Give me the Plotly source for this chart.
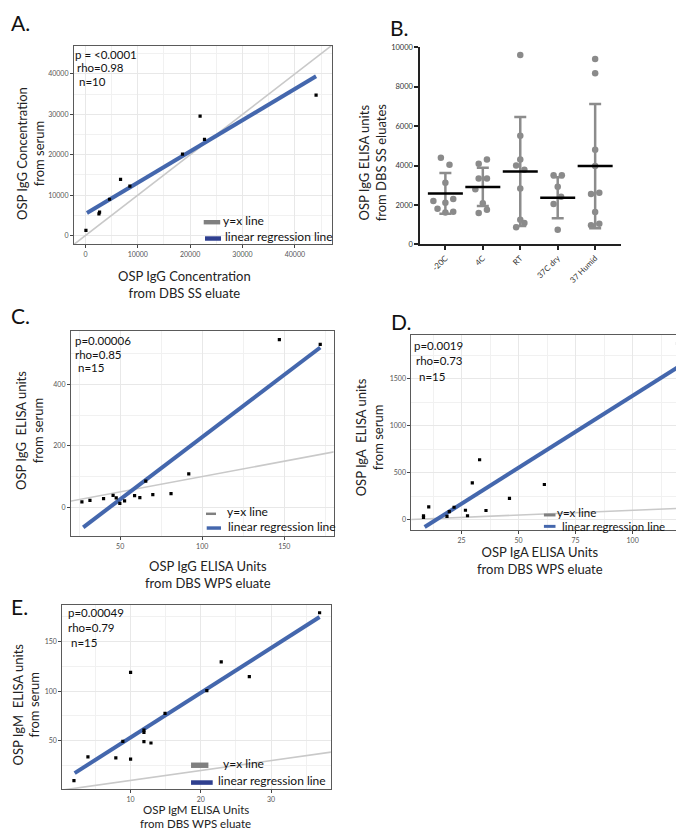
import plotly.graph_objects as go

W, H = 684, 830

# ---------------- data ----------------
# Panel A
a_dbs = [95, 2580, 2700, 4610, 6710, 8490, 18540, 21900, 22740, 44050]
a_serum = [1300, 5390, 5800, 8980, 13880, 12240, 20150, 29550, 23820, 34760]
a_fit_x = [290, 44050]
a_fit_y = [5560, 39410]

# Panel B
b_categories = ["-20C", "4C", "RT", "37C dry", "37 Humid"]
b_neg20 = [4400, 4045, 3125, 2205, 2120, 2305, 1805, 1620, 1655]
b_neg20_jit = [-0.12, 0.11, 0, -0.32, 0, 0.21, -0.21, 0, 0.21]
b_4c = [4095, 4310, 3345, 3345, 2800, 2090, 1590, 1755]
b_4c_jit = [-0.11, 0.11, -0.11, 0.11, -0.2, 0, -0.11, 0.11]
b_rt = [9610, 5510, 4310, 4010, 3795, 2840, 1250, 1085, 870]
b_rt_jit = [0, 0, 0, -0.11, 0.11, 0, 0, 0.11, -0.11]
b_37dry = [3510, 3510, 2925, 2420, 2055, 750]
b_37dry_jit = [-0.11, 0.11, 0, 0.09, -0.11, 0]
b_37hum = [9410, 8690, 4800, 3975, 2555, 2620, 1640, 970, 1055]
b_37hum_jit = [0, 0, 0, 0, -0.11, 0.11, 0, -0.11, 0.11]
b_means = [2590, 2920, 3700, 2370, 3975]
b_sd = [1035, 970, 2765, 1035, 3150]

# Panel C
c_dbs = [26.7, 31.6, 39.9, 45.7, 47.6, 49.8, 52.7, 58.8, 62.0, 65.6, 69.9, 81.0, 91.8, 147.0, 171.9]
c_serum = [17.4, 22.6, 28.0, 38.7, 30.3, 12.9, 20.6, 37.7, 31.3, 85.2, 41.0, 44.2, 108.7, 546, 531]
c_fit_x = [27.5, 171.9]
c_fit_y = [-65.5, 520.6]

# Panel D
d_dbs = [8.3, 8.3, 10.6, 18.6, 19.6, 21.7, 26.7, 27.6, 29.7, 32.9, 35.7, 46.0, 61.3, 119.7]
d_serum = [42, 24, 137, 35, 87, 133, 101, 42, 393, 639, 98, 228, 375, 1876]
d_fit_x = [8.8, 119.7]
d_fit_y = [-78, 1623]

# Panel E
e_dbs = [1.94, 3.93, 7.9, 10.0, 8.9, 10.0, 11.9, 11.9, 11.9, 12.9, 14.9, 20.85, 22.9, 26.9, 36.9]
e_serum = [9.8, 33.7, 32.7, 31.4, 49.3, 118.8, 60.6, 58.3, 49.0, 47.7, 77.6, 100.5, 129.4, 114.5, 178.9]
e_fit_x = [2.04, 36.9]
e_fit_y = [17.4, 174.6]

# ---------------- helpers ----------------
def fx(p):
    return p / W

def fy(p):
    return 1 - p / H

FONT = "Lato"
GRID = "#e8e8e8"
MINOR = "#f1f1f1"
BORDER = "#5a5a5a"
REG = "#4467ad"
IDL = "#c9c9c9"

fig = go.Figure()

panels = [
    ("", a_dbs, a_serum, a_fit_x, a_fit_y, [-2200, 47000], [-2200, 47000]),
    ("3", c_dbs, c_serum, c_fit_x, c_fit_y, [20, 180], [-94.5, 576]),
    ("4", d_dbs, d_serum, d_fit_x, d_fit_y, [3, 125.6], [-113, 1966]),
    ("5", e_dbs, e_serum, e_fit_x, e_fit_y, [0.27, 38.5], [1.2, 186.9]),
]

for suf, xs, ys, fxs, fys, xr, yr in panels:
    lo = min(xr[0], yr[0])
    hi = max(xr[1], yr[1])
    fig.add_trace(go.Scatter(x=[lo, hi], y=[lo, hi], mode="lines",
                             line=dict(color=IDL, width=1.6),
                             xaxis="x" + suf, yaxis="y" + suf, showlegend=False, hoverinfo="skip"))
    fig.add_trace(go.Scatter(x=fxs, y=fys, mode="lines",
                             line=dict(color=REG, width=4),
                             xaxis="x" + suf, yaxis="y" + suf, showlegend=False))
    fig.add_trace(go.Scatter(x=xs, y=ys, mode="markers",
                             marker=dict(color="black", size=3.2, symbol="square"),
                             xaxis="x" + suf, yaxis="y" + suf, showlegend=False))

# Panel B
b_groups = [(b_neg20, b_neg20_jit), (b_4c, b_4c_jit), (b_rt, b_rt_jit),
            (b_37dry, b_37dry_jit), (b_37hum, b_37hum_jit)]
bx, by = [], []
for i, (vals, jit) in enumerate(b_groups):
    for v, j in zip(vals, jit):
        bx.append(i + j)
        by.append(v)
fig.add_trace(go.Scatter(x=bx, y=by, mode="markers",
                         marker=dict(color="#8a8a8a", size=6.5),
                         xaxis="x2", yaxis="y2", showlegend=False, cliponaxis=False))
cat_idx = list(range(len(b_categories)))
fig.add_trace(go.Scatter(x=cat_idx, y=b_means, mode="markers",
                         marker=dict(size=0.1, color="rgba(0,0,0,0)"),
                         error_y=dict(type="data", array=b_sd, color="#8c8c8c", thickness=2.5, width=6),
                         xaxis="x2", yaxis="y2", showlegend=False, cliponaxis=False))
fig.add_trace(go.Scatter(x=cat_idx, y=b_means, mode="markers",
                         marker=dict(symbol="line-ew", size=25, color="black",
                                     line=dict(color="black", width=2.5)),
                         xaxis="x2", yaxis="y2", showlegend=False, cliponaxis=False))

# ---------------- axes ----------------
def gg_axis(domain, rng, dtick, minor_dtick, anchor):
    return dict(domain=domain, range=rng, anchor=anchor, dtick=dtick, tick0=0, tickformat="d",
                showgrid=True, gridcolor=GRID, gridwidth=1,
                minor=dict(dtick=minor_dtick, tick0=0, showgrid=True, gridcolor=MINOR, gridwidth=0.8, ticks=""),
                zeroline=False, showline=True, mirror=True, linecolor=BORDER, linewidth=1,
                ticks="outside", ticklen=3, tickwidth=1, tickcolor="#444",
                tickfont=dict(family=FONT, size=7, color="#555"))

layout = dict(
    width=W, height=H, margin=dict(l=0, r=0, t=0, b=0),
    paper_bgcolor="white", plot_bgcolor="white",
    font=dict(family=FONT),
)
layout["xaxis"] = gg_axis([fx(66), fx(324)], [-2200, 47000], 10000, 5000, "y")
layout["yaxis"] = gg_axis([fy(235), fy(34)], [-2200, 47000], 10000, 5000, "x")
layout["xaxis3"] = gg_axis([fx(63), fx(326)], [20, 180], 50, 25, "y3")
layout["yaxis3"] = gg_axis([fy(530), fy(322)], [-94.5, 576], 200, 100, "x3")
layout["xaxis4"] = gg_axis([fx(404), 1.0], [3, 125.6], 25, 12.5, "y4")
layout["yaxis4"] = gg_axis([fy(524), fy(326.7)], [-113, 1966], 500, 250, "x4")
layout["xaxis5"] = gg_axis([fx(54.3), fx(323.3)], [0.27, 38.5], 10, 5, "y5")
layout["yaxis5"] = gg_axis([fy(785.7), fy(599.3)], [1.2, 186.9], 50, 25, "x5")

layout["xaxis2"] = dict(domain=[fx(413), fx(614)], range=[-0.667, 4.693], anchor="y2",
                        tickvals=cat_idx, ticktext=b_categories, tickangle=-45,
                        showgrid=False, zeroline=False, showline=True, linecolor="#222", linewidth=2,
                        ticks="outside", ticklen=4, tickwidth=1.5, tickcolor="#222",
                        tickfont=dict(family=FONT, size=8, color="#333333"))
layout["yaxis2"] = dict(domain=[fy(235), fy(35.7)], range=[0, 10000], anchor="x2", dtick=2000,
                        tickformat="d",
                        showgrid=False, zeroline=False, showline=True, linecolor="#222", linewidth=2,
                        ticks="outside", ticklen=4, tickwidth=1.5, tickcolor="#222",
                        tickfont=dict(family=FONT, size=7.5, color="#333333"))

# ---------------- text ----------------
def ann(text, x, y, size, xanchor="left", angle=0, color="#1a1a1a", pad=1):
    return dict(text=text, x=fx(x), y=fy(y), xref="paper", yref="paper", showarrow=False,
                xanchor=xanchor, yanchor="middle", textangle=angle, align="center",
                borderpad=pad, font=dict(family=FONT, size=size, color=color))

anns = []
for t, x, y in [("A.", 1, 11), ("B.", 381, 16), ("C.", 1, 307), ("D.", 382, 313), ("E.", 1, 601)]:
    anns.append(ann(t, x, y, 21, color="#111"))

stats = [
    ("p = <0.0001", 65, 43.3), ("rho=0.98", 67.3, 55.7), ("n=10", 69.3, 70),
    ("p=0.00006", 65, 332.3), ("rho=0.85", 65, 346.7), ("n=15", 68.3, 359),
    ("p=0.0019", 405, 336.7), ("rho=0.73", 406.7, 352.7), ("n=15", 409.3, 369),
    ("p=0.00049", 58.3, 607.3), ("rho=0.79", 58.3, 622.3), ("n=15", 61, 637.3),
]
for t, x, y in stats:
    anns.append(ann(t, x, y, 11.5, color="#111"))

titles = [
    ("OSP IgG Concentration<br>from serum", 22.5, 143, -90, 13),
    ("OSP IgG Concentration<br>from DBS SS eluate", 177, 275, 0, 13),
    ("OSP IgG ELISA units<br>from DBS SS eluates", 364.5, 152, -90, 13),
    ("OSP IgG  ELISA units<br>from serum", 21.5, 423, -90, 13),
    ("OSP IgG ELISA Units<br>from DBS WPS eluate", 200, 569, 0, 13),
    ("OSP IgA  ELISA units<br>from serum", 361.5, 430, -90, 13),
    ("OSP IgA ELISA Units<br>from DBS WPS eluate", 533, 555, 0, 13),
    ("OSP IgM  ELISA units<br>from serum", 18, 700, -90, 13),
]
for t, x, y, a, s in titles:
    anns.append(ann(t, x, y, s, xanchor="center", angle=a, color="#222"))
anns.append(ann("OSP IgM ELISA Units", 188, 806.5, 11.5, xanchor="center", color="#222", pad=0))
anns.append(ann("from DBS WPS eluate", 188, 820, 11.5, xanchor="center", color="#222", pad=0))

shapes = []
def key(x0, x1, yc, h, color):
    shapes.append(dict(type="rect", xref="paper", yref="paper",
                       x0=fx(x0), x1=fx(x1), y0=fy(yc + h / 2), y1=fy(yc - h / 2),
                       fillcolor=color, line=dict(width=0)))

legends = [
    ((196, 212.5, 212.5, 4.5), (213.3, 210.5), (197.3, 213.3, 229, 4.5), (215, 227), "#2f3f8f", 12),
    ((198.3, 208.3, 507.3, 2.5), (217.3, 505.3), (199, 213.3, 521.7, 3.5), (218.3, 519.7), REG, 12),
    ((536.7, 548.3, 508.5, 3), (548.3, 506), (536.7, 548.3, 520, 3), (553.3, 520), REG, 11.5),
    ((183.3, 200.7, 761.5, 5.5), (213.3, 759.5), (183.3, 205, 779, 4.6), (208.3, 777), "#2f3f8f", 12),
]
for (g, gt, b, bt, bcol, ts) in legends:
    key(g[0], g[1], g[2], g[3], "#808080")
    key(b[0], b[1], b[2], b[3], bcol)
    anns.append(ann("y=x line", gt[0], gt[1], ts, color="#111"))
    anns.append(ann("linear regression line", bt[0], bt[1], ts, color="#111"))

layout["annotations"] = anns
layout["shapes"] = shapes
fig.update_layout(**layout)

fig.write_html("out.html")
